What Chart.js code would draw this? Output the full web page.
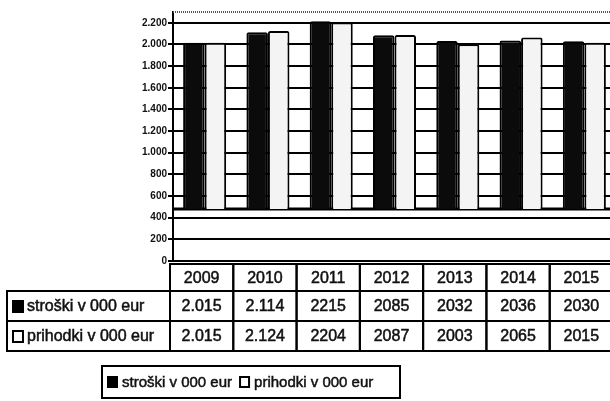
<!DOCTYPE html>
<html>
<head>
<meta charset="utf-8">
<script src="https://cdn.jsdelivr.net/npm/chart.js@4"></script>
<style>
  html, body { margin: 0; padding: 0; background: #fff; overflow: hidden; }
  #wrap { position: absolute; left: 0; top: 0; width: 620px; height: 401px; }
</style>
</head>
<body>
<div id="wrap"><canvas id="costChart"></canvas></div>
<script>
const years = ['2009', '2010', '2011', '2012', '2013', '2014', '2015'];
const stroski = [2015, 2114, 2215, 2085, 2032, 2036, 2030];
const prihodki = [2015, 2124, 2204, 2087, 2003, 2065, 2015];
const stroskiText = ['2.015', '2.114', '2215', '2085', '2032', '2036', '2030'];
const prihodkiText = ['2.015', '2.124', '2204', '2087', '2003', '2065', '2015'];
const seriesNames = ['stroški v 000 eur', 'prihodki v 000 eur'];
const tickValues = [0, 200, 400, 600, 800, 1000, 1200, 1400, 1600, 1800, 2000, 2200];
const barBase = 480;
const yMax = 2300;

const FONT = '"Liberation Sans", Arial, sans-serif';

// heavy-ish text, like the scanned original
function inkText(ctx, txt, x, y) {
    ctx.fillText(txt, x, y);
    ctx.lineWidth = 0.5;
    ctx.strokeStyle = ctx.fillStyle;
    ctx.strokeText(txt, x, y);
}

// thick floor line the bars stand on + dotted top edge
const floorPlugin = {
    id: 'floor',
    beforeDatasetsDraw(chart) {
        const { ctx, chartArea: a, scales: { y } } = chart;
        const py = y.getPixelForValue(barBase);
        ctx.save();
        ctx.strokeStyle = '#000';
        ctx.lineWidth = 3;
        ctx.beginPath();
        ctx.moveTo(a.left, py);
        ctx.lineTo(a.right, py);
        ctx.stroke();
        ctx.lineWidth = 2;
        ctx.strokeStyle = '#555';
        ctx.setLineDash([1, 1]);
        ctx.beginPath();
        ctx.moveTo(a.left, a.top);
        ctx.lineTo(a.right, a.top);
        ctx.stroke();
        ctx.restore();
    }
};

// data table under the plot, columns follow the x scale
const tablePlugin = {
    id: 'dataTable',
    afterDraw(chart) {
        const { ctx, chartArea: a, scales: { x } } = chart;
        const colW = x.getPixelForValue(1) - x.getPixelForValue(0);
        const top = a.bottom + 3;
        const rowH = [27, 30, 30];
        const rowTop = [top, top + rowH[0], top + rowH[0] + rowH[1]];
        const labelLeft = 7;
        const shift = -3;
        ctx.save();
        ctx.font = '16px ' + FONT;
        ctx.textBaseline = 'middle';
        const rows = [years, stroskiText, prihodkiText];
        rows.forEach((row, r) => {
            row.forEach((txt, i) => {
                const cx = x.getPixelForValue(i) + shift;
                const left = cx - colW / 2;
                ctx.strokeStyle = '#000';
                ctx.lineWidth = 2;
                ctx.strokeRect(left, rowTop[r], colW, rowH[r]);
                ctx.textAlign = 'center';
                ctx.fillStyle = '#111';
                inkText(ctx, txt, cx, rowTop[r] + rowH[r] / 2 + 1);
            });
        });
        const firstLeft = x.getPixelForValue(0) + shift - colW / 2;
        [1, 2].forEach(r => {
            ctx.strokeStyle = '#000';
            ctx.lineWidth = 2;
            ctx.strokeRect(labelLeft, rowTop[r], firstLeft - labelLeft, rowH[r]);
            const ds = chart.data.datasets[r - 1];
            const my = rowTop[r] + rowH[r] / 2;
            if (r === 1) {
                ctx.fillStyle = '#000';
                ctx.fillRect(labelLeft + 5, my - 6, 12, 13);
            } else {
                ctx.strokeRect(labelLeft + 6, my - 5, 10, 11);
            }
            ctx.fillStyle = '#111';
            ctx.textAlign = 'left';
            inkText(ctx, ds.label, labelLeft + 20, my + 1);
        });
        ctx.restore();
    }
};

// boxed legend at the bottom
const legendBoxPlugin = {
    id: 'legendBox',
    afterDraw(chart) {
        const { ctx } = chart;
        const box = { left: 102, top: 366, width: 298, height: 32 };
        ctx.save();
        ctx.strokeStyle = '#000';
        ctx.lineWidth = 2;
        ctx.strokeRect(box.left, box.top, box.width, box.height);
        ctx.font = '15px ' + FONT;
        ctx.textBaseline = 'middle';
        ctx.textAlign = 'left';
        const my = box.top + box.height / 2;
        let px = box.left + 5;
        chart.data.datasets.forEach((ds, i) => {
            ctx.strokeStyle = '#000';
            ctx.lineWidth = 2;
            if (i === 0) {
                ctx.fillStyle = '#000';
                ctx.fillRect(px, my - 6, 11, 12);
            } else {
                ctx.strokeRect(px + 1, my - 5, 9, 10);
            }
            ctx.fillStyle = '#111';
            inkText(ctx, ds.label, px + 15, my + 1);
            px += 15 + ctx.measureText(ds.label).width + 7;
        });
        ctx.restore();
    }
};

const ctx = document.getElementById('costChart').getContext('2d');
new Chart(ctx, {
    type: 'bar',
    data: {
        labels: years,
        datasets: [{
            label: seriesNames[0],
            data: stroski,
            base: barBase,
            backgroundColor: '#0b0b0b',
            borderColor: '#000',
            borderWidth: 2,
            borderRadius: 2
        }, {
            label: seriesNames[1],
            data: prihodki,
            base: barBase,
            backgroundColor: '#f4f4f4',
            borderColor: '#000',
            borderWidth: 2,
            borderRadius: 2
        }]
    },
    options: {
        responsive: true,
        maintainAspectRatio: false,
        animation: false,
        layout: { padding: { top: 12, right: 4, bottom: 140, left: 0 } },
        datasets: { bar: { categoryPercentage: 0.68, barPercentage: 1 } },
        plugins: {
            legend: { display: false },
            tooltip: { enabled: false }
        },
        scales: {
            x: { display: false },
            y: {
                min: 0,
                max: yMax,
                afterBuildTicks: s => { s.ticks = tickValues.map(v => ({ value: v })); },
                afterFit: s => { s.width = 173; },
                ticks: {
                    color: '#111',
                    padding: 1,
                    autoSkip: false,
                    font: { family: FONT, size: 10, weight: 'bold' },
                    callback: v => v.toLocaleString('de-DE')
                },
                grid: { color: '#000', lineWidth: 2, tickLength: 5 },
                border: { color: '#000', width: 2 }
            }
        }
    },
    plugins: [floorPlugin, tablePlugin, legendBoxPlugin]
});
</script>
</body>
</html>
